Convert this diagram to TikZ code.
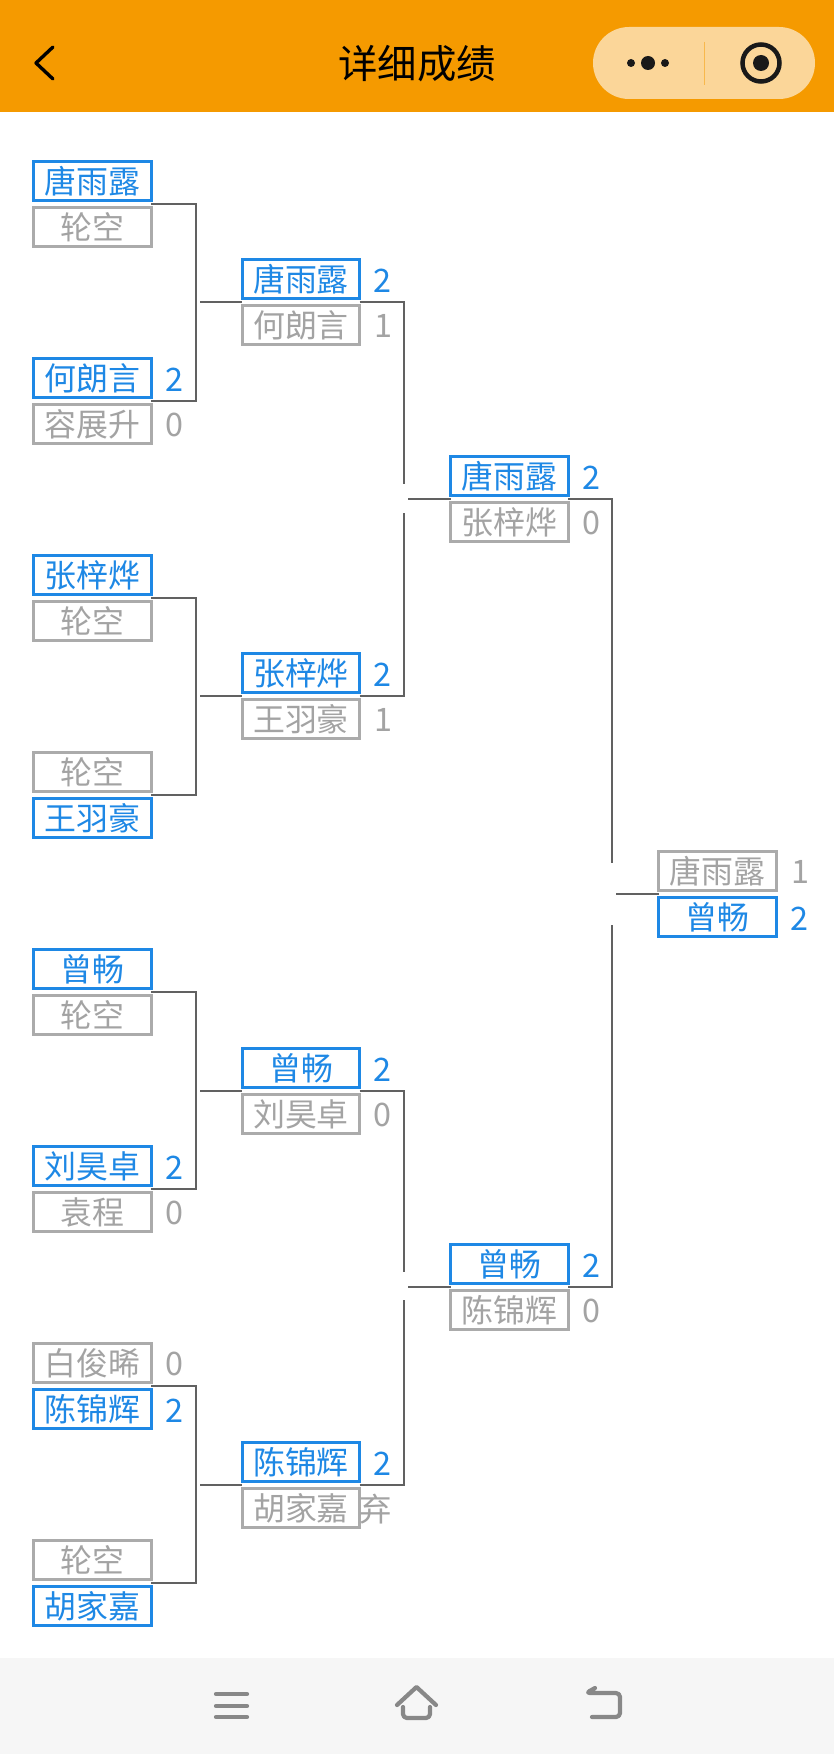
\documentclass[tikz,border=0pt]{standalone}
\usepackage{fontspec}
\setmainfont{Noto Sans CJK SC}
\definecolor{barorange}{HTML}{F59A00}
\definecolor{pillcolor}{HTML}{FBD699}
\definecolor{winblue}{HTML}{1E88E5}
\definecolor{losegray}{HTML}{ABABAB}
\definecolor{losetext}{HTML}{A3A3A3}
\definecolor{iconcolor}{HTML}{888888}
\tikzset{
    player/.style={draw, line width=2pt, inner sep=0pt, minimum width=2.93cm, minimum height=0.99cm, outer xsep=0pt, outer ysep=2.3pt, font=\fontsize{22.7}{25}\selectfont, text height=0.66cm, text depth=0.06cm},
    win/.style={player, draw=winblue, text=winblue},
    lose/.style={player, draw=losegray, text=losetext},
    scorelabel/.style={inner sep=0pt, yshift=-1pt, font=\fontsize{23}{25}\selectfont},
    conn/.style={draw=black!62, line width=2pt},
    icon/.style={draw=iconcolor, line width=3pt, line cap=round, line join=round}
}
\begin{document}
\begin{tikzpicture}[x=0.025cm, y=-0.025cm]
    \useasboundingbox (0, 0) rectangle (834, 1754);
    \fill[white] (0, 0) rectangle (834, 1754);

    % Title bar
    \fill[barorange] (0, 0) rectangle (834, 112);
    \draw[black, line width=2.4pt, line cap=round, line join=round] (53, 47) -- (36, 63) -- (53, 79);
    \node[font=\fontsize{28}{30}\selectfont] (title) at (417, 64) {详细成绩};
    \fill[pillcolor, rounded corners=0.9cm] (593, 27) rectangle (815, 99);
    \draw[barorange!50!pillcolor, line width=0.6pt] (704, 42) -- (704, 85);
    \fill[black!90] (631, 63) circle (4) (648, 63) circle (7) (665, 63) circle (4);
    \draw[black!90, line width=3.2pt] (761, 63) circle (18.5);
    \fill[black!90] (761, 63) circle (8);

    % Bottom bar
    \fill[black!3.5] (0, 1658) rectangle (834, 1754);
    \foreach \y in {1694, 1706, 1717} {
        \draw[icon] (216, \y) -- (247, \y);
    }
    \draw[icon] (397, 1705) -- (416.5, 1687) -- (436, 1705);
    \draw[icon, rounded corners=0.1cm] (403, 1707) -- (403, 1718) -- (430, 1718) -- (430, 1707);
    \draw[icon, rounded corners=0.1cm] (592, 1717) -- (620, 1717) -- (620, 1693) -- (586, 1693) -- (595, 1688);

    % First round
    \foreach \name/\kind/\y/\who in {
        a1/win/181/唐雨露, a2/lose/227/轮空,
        a3/win/378/何朗言, a4/lose/424/容展升,
        a5/win/575/张梓烨, a6/lose/621/轮空,
        a7/lose/772/轮空, a8/win/818/王羽豪,
        a9/win/969/曾畅, a10/lose/1015/轮空,
        a11/win/1166/刘昊卓, a12/lose/1212/袁程,
        a13/lose/1363/白俊晞, a14/win/1409/陈锦辉,
        a15/lose/1560/轮空, a16/win/1606/胡家嘉} {
        \node[\kind] (\name) at (92.5, \y) {\who};
    }

    % Second round
    \foreach \name/\kind/\y/\who in {
        b1/win/279/唐雨露, b2/lose/325/何朗言,
        b3/win/673/张梓烨, b4/lose/719/王羽豪,
        b5/win/1068/曾畅, b6/lose/1114/刘昊卓,
        b7/win/1462/陈锦辉, b8/lose/1508/胡家嘉} {
        \node[\kind] (\name) at (301, \y) {\who};
    }

    % Semi-finals
    \foreach \name/\kind/\y/\who in {
        c1/win/476/唐雨露, c2/lose/522/张梓烨,
        c3/win/1264/曾畅, c4/lose/1310/陈锦辉} {
        \node[\kind] (\name) at (509.5, \y) {\who};
    }

    % Final
    \node[lose] (d1) at (717.5, 871) {唐雨露};
    \node[win] (d2) at (717.5, 917) {曾畅};

    % Scores
    \foreach \name/\col/\x/\y/\val in {
        sa3/winblue/174/378/2, sa4/losetext/174/424/0,
        sa11/winblue/174/1166/2, sa12/losetext/174/1212/0,
        sa13/losetext/174/1363/0, sa14/winblue/174/1409/2,
        sb1/winblue/382/279/2, sb2/losetext/383/325/1,
        sb3/winblue/382/673/2, sb4/losetext/383/719/1,
        sb5/winblue/382/1068/2, sb6/losetext/382/1114/0,
        sb7/winblue/382/1462/2, sb8/losetext/376/1508/弃,
        sc1/winblue/591/476/2, sc2/losetext/591/522/0,
        sc3/winblue/591/1264/2, sc4/losetext/591/1310/0,
        sd1/losetext/800/871/1, sd2/winblue/799/917/2} {
        \node[scorelabel, text=\col] (\name) at (\x, \y) {\val};
    }

    % Joints between the rounds
    \foreach \name/\x/\y in {
        j1/196/303, j2/196/697, j3/196/1092, j4/196/1486,
        k1/404/484, k2/404/513, k3/404/1272, k4/404/1300,
        m1/612/863, m2/612/925} {
        \coordinate (\name) at (\x, \y);
    }
    \foreach \name/\x in {
        f1/200, f2/200, f3/200, f4/200,
        f5/408, f6/408, f7/616} {
        \coordinate (\name) at (\x, 0);
    }

    % Connectors
    \foreach \up/\joint/\down/\free/\next in {
        a1/j1/a3/f1/b1, a5/j2/a7/f2/b3,
        a9/j3/a11/f3/b5, a13/j4/a15/f4/b7} {
        \draw[conn] (\up.south east) -| (\joint) |- (\down.south east);
        \draw[conn] (\free |- \next.south west) -- (\next.south west);
    }
    \draw[conn] (b1.south east) -| (k1);
    \draw[conn] (b3.south east) -| (k2);
    \draw[conn] (f5 |- c1.south west) -- (c1.south west);
    \draw[conn] (b5.south east) -| (k3);
    \draw[conn] (b7.south east) -| (k4);
    \draw[conn] (f6 |- c3.south west) -- (c3.south west);
    \draw[conn] (c1.south east) -| (m1);
    \draw[conn] (c3.south east) -| (m2);
    \draw[conn] (f7 |- d1.south west) -- (d1.south west);
\end{tikzpicture}
\end{document}
